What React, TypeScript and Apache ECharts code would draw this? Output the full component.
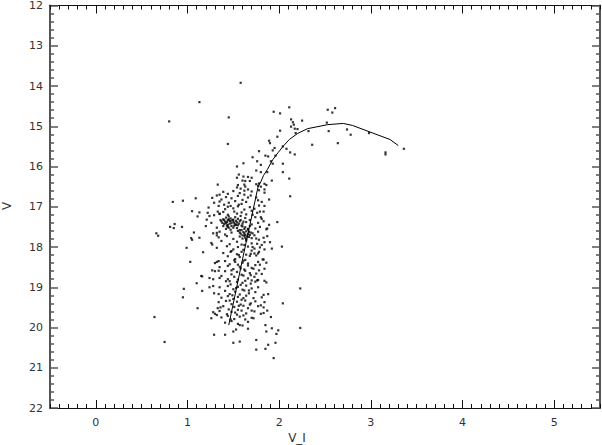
import React, { useEffect, useRef } from "react";
import * as echarts from "echarts";

// V-I colour, V magnitude pairs
const brightStars: [number, number][] = [
  [1.58,13.92],[1.13,14.40],[0.80,14.88],[1.45,14.78],[1.44,15.44],[1.94,14.64],[2.01,14.68],[2.11,14.53],
  [2.13,14.83],[2.15,14.90],[2.16,14.96],[2.13,15.01],[2.17,15.06],[2.25,14.86],[2.20,15.07],[2.18,15.17],
  [2.01,15.11],[1.98,15.26],[2.32,15.12],[2.36,15.46],[2.53,14.59],[2.61,14.55],[2.58,14.66],[2.52,14.91],
  [2.54,15.12],[2.64,15.42],[2.74,15.08],[2.78,15.21],[2.98,15.17],[3.16,15.65],[3.16,15.70],[3.36,15.56],
  [1.89,15.36],[1.90,15.42],[1.95,15.54],[1.93,15.60],[2.04,15.50],[2.08,15.56],[2.12,15.65],[2.17,15.70],
  [1.78,15.62],[1.85,15.73],[1.88,15.75],[1.71,15.77],[1.76,15.87],[1.61,15.92],[1.80,15.96],[1.96,15.73],
  [2.04,15.93],[1.91,15.87],[1.93,15.93],[1.54,16.00],[1.75,16.10],[1.80,16.14],[1.87,16.14],[1.56,16.20],
  [1.61,16.25],[1.66,16.26],[1.70,16.28],[1.54,16.28],[1.60,16.35],[1.63,16.36],[1.68,16.36],[1.92,16.35],
  [2.04,16.14],[2.11,16.30],[1.33,16.45],[1.84,16.43],[1.55,16.46],[1.62,16.45],[1.75,16.44],[1.78,16.42],
  [1.86,16.46],
];

const fieldStars: [number, number][] = [
  [0.84,16.88],[0.95,16.85],[1.09,16.79],[1.05,17.11],[1.13,17.14],[1.11,17.24],[0.86,17.43],[0.85,17.53],
  [0.81,17.50],[0.94,17.50],[0.66,17.66],[0.68,17.72],[1.07,17.64],[1.04,17.78],[1.05,17.82],[1.13,17.77],
  [0.99,18.02],[1.17,18.13],[1.03,18.37],[1.15,18.72],[1.16,18.73],[1.10,18.90],[0.96,19.04],[0.95,19.25],
  [1.11,19.52],[0.64,19.74],[0.75,20.36],[1.16,19.09],[2.12,16.74],[2.03,17.99],[2.23,19.03],[2.04,19.40],
  [2.23,20.01],[1.50,20.38],[1.57,20.35],[1.75,20.31],[1.88,20.43],[1.96,20.38],[1.85,20.53],[1.75,20.55],
  [1.94,20.76],
];

const blueEdgeStars: [number, number][] = [
  [1.32,16.72],[1.35,16.70],[1.29,16.90],[1.27,16.78],[1.33,17.12],[1.35,17.17],[1.29,17.21],[1.21,17.32],
  [1.24,17.23],[1.20,17.48],[1.32,17.71],[1.32,17.65],[1.27,17.94],[1.32,18.37],[1.34,18.35],[1.27,18.58],
  [1.30,18.60],[1.34,18.59],[1.24,18.77],[1.28,18.80],[1.35,18.77],[1.24,19.00],[1.28,18.97],[1.29,19.15],
  [1.34,19.17],[1.34,19.37],[1.28,19.62],[1.30,19.66],[1.26,19.77],[1.33,19.52],[1.32,19.69],[1.29,20.18],
  [1.36,19.50],[1.34,16.98],[1.26,17.40],[1.32,17.52],[1.28,17.66],[1.34,17.76],[1.26,17.90],[1.32,18.02],
  [1.30,18.40],[1.23,17.02],[1.22,17.15],
];

const redEdgeStars: [number, number][] = [
  [1.89,16.82],[1.87,17.54],[1.89,17.45],[1.80,17.26],[1.81,17.30],[1.84,16.98],[1.84,16.57],[1.84,16.65],
  [1.75,16.77],[1.77,16.84],[1.81,16.88],[1.78,16.97],[1.73,17.05],[1.79,17.12],[1.77,16.48],[1.80,16.50],
  [1.78,16.59],[1.84,17.88],[1.84,18.06],[1.83,18.31],[1.86,18.39],[1.84,18.54],[1.84,18.84],[1.86,18.88],
  [1.87,17.73],[1.73,17.71],[1.75,17.79],[1.78,17.82],[1.76,17.92],[1.73,18.04],[1.78,18.12],[1.75,18.21],
  [1.73,18.16],[1.77,18.37],[1.74,18.45],[1.72,18.54],[1.78,18.58],[1.75,18.66],[1.73,18.74],[1.76,18.83],
  [1.70,18.83],[1.92,18.04],[1.88,19.17],[1.83,19.19],[1.84,19.37],[1.74,19.35],[1.77,19.47],[1.80,19.45],
  [1.83,19.50],[1.87,19.58],[1.83,19.64],[1.80,19.66],[1.91,19.74],[1.85,19.94],[1.92,20.02],[1.99,20.07],
  [1.97,20.16],[1.86,20.10],[1.73,19.60],[1.72,19.77],[1.98,17.38],[1.74,17.26],[1.77,17.40],[1.83,17.36],
  [1.79,17.50],[1.86,17.56],[1.77,17.62],[1.74,17.54],[1.83,17.77],[1.81,17.95],[1.90,17.88],[1.79,18.01],
  [1.77,18.16],[1.82,18.31],[1.79,18.44],[1.81,18.67],[1.77,18.82],[1.74,18.86],[1.77,19.00],[1.74,19.12],
  [1.81,19.25],[1.72,19.27],[1.76,17.15],[1.83,17.12],
];

const upperBandStars: [number, number][] = [
  [1.54,16.52],[1.58,16.55],[1.63,16.50],[1.66,16.57],
  [1.39,16.63],[1.44,16.68],[1.50,16.61],[1.57,16.66],[1.62,16.70],[1.70,16.62],
  [1.37,16.82],[1.42,16.76],[1.48,16.79],[1.55,16.73],[1.60,16.83],[1.66,16.77],
  [1.35,16.87],[1.40,16.95],[1.45,16.90],[1.52,16.86],[1.59,16.93],[1.64,16.88],
  [1.41,17.06],[1.44,17.00],[1.50,17.04],[1.55,16.99],[1.62,17.07],[1.68,17.01],
  [1.35,17.18],[1.39,17.13],[1.44,17.20],[1.51,17.12],[1.54,17.17],[1.59,17.14],[1.64,17.19],[1.70,17.10],
  [1.39,17.31],[1.42,17.27],[1.44,17.33],[1.45,17.24],[1.47,17.29],[1.50,17.32],[1.52,17.26],[1.55,17.30],
  [1.58,17.23],[1.63,17.28],[1.68,17.33],
  [1.37,17.36],[1.40,17.43],[1.43,17.38],[1.44,17.45],[1.46,17.35],[1.48,17.41],[1.50,17.37],[1.52,17.44],
  [1.54,17.39],[1.55,17.46],[1.57,17.36],[1.60,17.42],[1.64,17.38],[1.70,17.44],
  [1.39,17.48],[1.42,17.55],[1.44,17.50],[1.47,17.57],[1.51,17.47],[1.54,17.53],[1.57,17.58],[1.60,17.49],
  [1.62,17.55],[1.63,17.51],[1.66,17.57],[1.68,17.48],
  [1.40,17.33],[1.42,17.41],[1.43,17.47],[1.45,17.31],[1.46,17.42],[1.47,17.36],[1.48,17.48],[1.49,17.33],
  [1.51,17.40],[1.53,17.35],[1.53,17.45],[1.56,17.42],[1.41,17.37],[1.45,17.52],[1.38,17.40],[1.36,17.33],
  [1.50,17.52],[1.58,17.33],[1.59,17.47],[1.61,17.37],
  [1.56,16.95],[1.69,16.72],[1.47,16.98],[1.62,16.60],[1.71,17.20],
];

const lowerBandStars: [number, number][] = [
  [1.35,17.62],[1.41,17.69],[1.48,17.64],[1.55,17.60],[1.58,17.67],[1.61,17.63],[1.63,17.70],[1.64,17.61],
  [1.66,17.68],[1.69,17.64],
  [1.57,17.64],[1.60,17.71],[1.62,17.66],[1.65,17.74],[1.67,17.62],[1.68,17.70],[1.71,17.66],[1.63,17.77],
  [1.59,17.58],[1.66,17.55],
  [1.43,17.73],[1.50,17.80],[1.57,17.74],[1.60,17.79],[1.62,17.72],[1.64,17.81],[1.67,17.75],[1.70,17.78],
  [1.37,17.85],[1.46,17.93],[1.54,17.87],[1.59,17.94],[1.64,17.84],[1.70,17.91],
  [1.43,17.98],[1.50,18.06],[1.55,18.00],[1.61,18.07],[1.66,17.99],[1.71,18.00],[1.62,17.95],
  [1.39,18.15],[1.48,18.10],[1.54,18.18],[1.59,18.12],[1.64,18.19],[1.70,18.09],[1.47,18.12],[1.56,18.20],
  [1.69,18.17],
  [1.44,18.23],[1.52,18.30],[1.57,18.25],[1.63,18.32],[1.68,18.22],[1.51,18.33],
  [1.41,18.35],[1.46,18.43],[1.52,18.37],[1.55,18.44],[1.61,18.34],[1.66,18.41],[1.60,18.39],
  [1.35,18.50],[1.44,18.47],[1.50,18.55],[1.57,18.49],[1.62,18.56],[1.66,18.46],[1.70,18.52],[1.58,18.53],
  [1.41,18.60],[1.48,18.68],[1.54,18.62],[1.59,18.69],[1.63,18.59],[1.68,18.65],[1.48,18.58],[1.69,18.70],
  [1.37,18.72],[1.44,18.80],[1.51,18.74],[1.55,18.81],[1.61,18.71],[1.66,18.78],
  [1.42,18.85],[1.47,18.93],[1.54,18.87],[1.58,18.94],[1.63,18.84],[1.69,18.91],[1.46,18.85],[1.60,18.89],
  [1.35,19.00],[1.44,18.97],[1.50,19.05],[1.55,18.99],[1.60,19.06],[1.64,18.96],[1.70,19.03],[1.53,19.02],
  [1.41,19.09],[1.46,19.17],[1.52,19.11],[1.57,19.18],[1.62,19.08],[1.67,19.15],[1.67,19.08],
  [1.37,19.26],[1.44,19.22],[1.50,19.29],[1.55,19.24],[1.59,19.31],[1.64,19.21],[1.49,19.20],[1.61,19.27],
  [1.42,19.34],[1.48,19.42],[1.54,19.36],[1.58,19.43],[1.63,19.33],[1.69,19.40],[1.46,19.33],[1.68,19.43],
  [1.39,19.47],[1.45,19.55],[1.51,19.49],[1.55,19.56],[1.61,19.46],[1.66,19.52],[1.56,19.46],
  [1.35,19.59],[1.43,19.67],[1.48,19.61],[1.54,19.68],[1.59,19.58],[1.64,19.65],[1.52,19.63],[1.70,19.58],
  [1.37,19.75],[1.44,19.71],[1.51,19.79],[1.57,19.73],[1.63,19.80],[1.70,19.76],[1.61,19.70],[1.47,19.80],
  [1.41,19.88],[1.48,19.84],[1.55,19.91],[1.66,19.86],[1.60,19.95],[1.57,19.94],
  [1.41,20.18],[1.50,20.10],[1.66,20.03],[1.53,20.05],
];

// Isochrone drawn through the diagram
const isoColor = [1.45, 1.61, 1.77, 1.80, 1.83, 1.87, 1.93, 1.99, 2.05, 2.11, 2.20, 2.31, 2.53, 2.70, 2.80, 3.21, 3.30];
const isoMag = [19.94, 18.20, 16.50, 16.38, 16.22, 16.08, 15.83, 15.65, 15.48, 15.33, 15.18, 15.06, 14.96, 14.93, 14.98, 15.33, 15.48];

const xMajor = [0, 1, 2, 3, 4, 5];
const xTitle = "V_I";
const yTitle = "V";

const FONT = "DejaVu Sans";
const frameDark = "#111";
const frameSide = "#555";

export default function App() {
  const ref = useRef<HTMLDivElement>(null);
  useEffect(() => {
    document.body.style.margin = "0";
    const chart = echarts.init(ref.current!, null, { renderer: "svg" });
    const stars = [
      ...brightStars,
      ...fieldStars,
      ...blueEdgeStars,
      ...redEdgeStars,
      ...upperBandStars,
      ...lowerBandStars,
    ];
    const iso = isoColor.map((c, i) => [c, isoMag[i]]);
    const minorX = (pos: "top" | "bottom") => ({
      type: "value",
      position: pos,
      min: -0.5,
      max: 5.5,
      interval: 0.1,
      axisLine: { show: true, onZero: false, lineStyle: { color: frameDark, width: 1 } },
      axisTick: { show: true, inside: true, length: 4, lineStyle: { color: frameDark, width: 1 } },
      axisLabel: { show: false },
      splitLine: { show: false },
    });
    const majorX = (pos: "top" | "bottom", labels: boolean) => ({
      type: "value",
      position: pos,
      min: -0.5,
      max: 5.5,
      axisLine: { show: false, onZero: false },
      axisTick: { show: true, inside: true, length: 8, customValues: xMajor, lineStyle: { color: frameDark, width: 1 } },
      axisLabel: {
        show: labels,
        customValues: xMajor,
        margin: 9,
        color: "#333",
        fontFamily: FONT,
        fontSize: 11,
      },
      splitLine: { show: false },
    });
    const yAx = (pos: "left" | "right", labels: boolean) => ({
      type: "value",
      position: pos,
      inverse: true,
      min: 12,
      max: 22,
      interval: 1,
      axisLine: { show: true, onZero: false, lineStyle: { color: frameSide, width: 2 } },
      axisTick: { show: true, inside: true, length: 8, lineStyle: { color: frameSide, width: 1.5 } },
      minorTick: { show: true, splitNumber: 5, length: 4, lineStyle: { color: frameSide, width: 1.5 } },
      axisLabel: { show: labels, margin: 7, color: "#333", fontFamily: FONT, fontSize: 11 },
      splitLine: { show: false },
      minorSplitLine: { show: false },
    });
    chart.setOption({
      animation: false,
      backgroundColor: "#fff",
      grid: { left: 50, right: 2, top: 5, bottom: 37, containLabel: false },
      xAxis: [minorX("bottom"), majorX("bottom", true), minorX("top"), majorX("top", false)],
      yAxis: [yAx("left", true), yAx("right", false)],
      graphic: [
        {
          type: "text",
          x: 297,
          y: 438,
          style: { text: xTitle, fill: "#333", font: `12px "${FONT}"`, align: "center", verticalAlign: "middle" },
        },
        {
          type: "text",
          x: 7,
          y: 206,
          rotation: Math.PI / 2,
          style: { text: yTitle, fill: "#333", font: `12px "${FONT}"`, align: "center", verticalAlign: "middle" },
        },
      ],
      series: [
        {
          type: "scatter",
          xAxisIndex: 0,
          yAxisIndex: 0,
          data: stars,
          symbol: "rect",
          symbolSize: 2.2,
          itemStyle: { color: "#000" },
          silent: true,
        },
        {
          type: "line",
          xAxisIndex: 0,
          yAxisIndex: 0,
          data: iso,
          showSymbol: false,
          smooth: false,
          lineStyle: { color: "#000", width: 1 },
          silent: true,
        },
      ],
    });
    return () => chart.dispose();
  }, []);
  return <div ref={ref} style={{ width: 602, height: 445 }} />;
}
